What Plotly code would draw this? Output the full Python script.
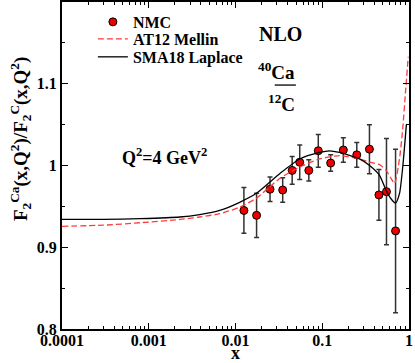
import plotly.graph_objects as go

# NMC Ca/C data
x_nmc = [0.0125, 0.0175, 0.025, 0.035, 0.045, 0.055, 0.07, 0.09, 0.125, 0.175,
         0.25, 0.35, 0.45, 0.55, 0.7]
y_nmc = [0.945, 0.939, 0.971, 0.970, 0.994, 1.004, 0.994, 1.018, 1.003, 1.019,
         1.013, 1.020, 0.964, 0.968, 0.920]
err_nmc = [0.028, 0.027, 0.015, 0.015, 0.017, 0.021, 0.013, 0.020, 0.010, 0.015,
           0.015, 0.030, 0.031, 0.065, 0.100]

# AT12 Mellin (red dashed)
x_at12 = [0.0001, 0.0003, 0.00079, 0.00228, 0.00387, 0.00658, 0.01117, 0.0174,
          0.0323, 0.0548, 0.0931, 0.158, 0.2686, 0.351, 0.4575, 0.545, 0.6235,
          0.6817, 0.7766, 0.8466, 0.9087, 0.9798]
y_at12 = [0.9256, 0.927, 0.930, 0.934, 0.937, 0.941, 0.949, 0.960,
          0.984, 0.998, 1.008, 1.012, 1.008, 1.004, 1.001, 0.994, 0.984,
          0.978, 1.008, 1.045, 1.088, 1.133]

# SMA18 Laplace (black solid)
x_sma = [0.0001, 0.0003, 0.00079, 0.00228, 0.00387, 0.00658, 0.01117, 0.0174,
         0.0323, 0.0548, 0.0931, 0.1214, 0.158, 0.2686, 0.351, 0.4575, 0.545,
         0.6235, 0.70, 0.7766, 0.8466, 0.9329]
y_sma = [0.934, 0.934, 0.935, 0.937, 0.940, 0.945, 0.955, 0.966,
         0.990, 1.008, 1.016, 1.018, 1.016, 1.008, 1.000, 0.988, 0.9695,
         0.959, 0.954, 0.9655, 0.998, 1.050]

x_ticks = [0.0001, 0.001, 0.01, 0.1, 1]
x_ticktext = ["<b>0.0001</b>", "<b>0.001</b>", "<b>0.01</b>", "<b>0.1</b>", "<b>1</b>"]
y_ticks = [0.8, 0.9, 1.0, 1.1]
y_ticktext = ["<b>0.8</b>", "<b>0.9</b>", "<b>1</b>", "<b>1.1</b>"]

FONT = "Liberation Serif"

fig = go.Figure()

fig.add_trace(go.Scatter(
    x=x_nmc, y=y_nmc, mode="markers", name="<b>NMC</b>", legend="legend",
    marker=dict(color="#ee0000", size=8, line=dict(color="black", width=1)),
    error_y=dict(type="data", array=err_nmc, color="#333333", thickness=1.5, width=2.5),
))
fig.add_trace(go.Scatter(
    x=x_at12, y=y_at12, mode="lines", name="<b>AT12 Mellin</b>", legend="legend2",
    line=dict(color="#ff3b3b", width=1.3, dash="6px,3px", shape="spline", smoothing=0.6),
))
fig.add_trace(go.Scatter(
    x=x_sma, y=y_sma, mode="lines", name="<b>SMA18 Laplace</b>", legend="legend3",
    line=dict(color="black", width=1.3, shape="spline", smoothing=0.6),
))

axis_common = dict(
    showline=True, linecolor="black", linewidth=2, mirror="allticks",
    ticks="inside", ticklen=6, tickwidth=1, tickcolor="black",
    showgrid=False, zeroline=False, automargin=False,
    tickfont=dict(family=FONT, size=16, color="black"),
)

fig.update_xaxes(
    type="log", range=[-4, 0], tickvals=x_ticks, ticktext=x_ticktext,
    minor=dict(ticks="inside", ticklen=3, tickcolor="black", dtick="D1"),
    ticklabelstandoff=-4,
    **axis_common,
)
fig.update_yaxes(
    range=[0.8, 1.2], tickvals=y_ticks, ticktext=y_ticktext,
    minor=dict(ticks="inside", ticklen=3, tickcolor="black", dtick=0.05),
    **axis_common,
)

def note(x, y, text, size, angle=0):
    fig.add_annotation(x=x, y=y, xref="paper", yref="paper", text=text, textangle=angle,
                       xanchor="center", yanchor="middle", showarrow=False,
                       font=dict(family=FONT, size=size, color="black"))

# y axis title, sitting a bit above the middle as in the original
note(-0.121, 0.581,
     "<b>F<sub>2</sub><sup>Ca</sup>(x,Q<sup>2</sup>)/F<sub>2</sub><sup>C</sup>(x,Q<sup>2</sup>)</b>",
     19, angle=-90)
note(0.5, -0.073, "<b>x</b>", 18)
note(0.63, 0.902, "<b>NLO</b>", 20)
note(0.618, 0.79, "<b><sup>40</sup>Ca</b>", 19)
note(0.633, 0.69, "<b><sup>12</sup>C</b>", 19)
note(0.294, 0.526, "<b>Q<sup>2</sup>=4 GeV<sup>2</sup></b>", 18)
fig.add_shape(type="line", xref="paper", yref="paper", x0=0.613, x1=0.674, y0=0.746, y1=0.746,
              line=dict(color="black", width=1.3))

legend_common = dict(x=0.089, xanchor="left", yanchor="middle",
                     bgcolor="rgba(0,0,0,0)", borderwidth=0,
                     font=dict(family=FONT, size=16, color="black"), itemwidth=30)

fig.update_layout(
    width=415, height=363,
    margin=dict(l=62, r=6, t=2, b=34),
    plot_bgcolor="white", paper_bgcolor="white",
    font=dict(family=FONT, color="black"),
    legend=dict(y=0.939, **legend_common),
    legend2=dict(y=0.887, **legend_common),
    legend3=dict(y=0.832, **legend_common),
    showlegend=True,
)

# drop the default body margin so the figure sits at the page origin
fig.write_html("out.html", config={"displayModeBar": False},
               post_script="document.body.style.margin = '0';")
